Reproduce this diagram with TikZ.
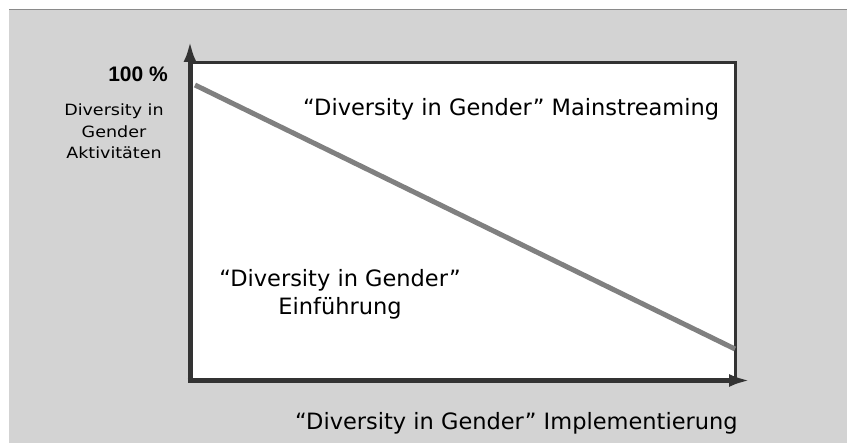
\documentclass[tikz,border=0pt]{standalone}
\usepackage{fontspec}
\setmainfont{DejaVu Sans}
\newfontfamily\widefont{DejaVu Sans}[FakeStretch=1.13]
\newfontfamily\pctfont{Liberation Sans}
\usetikzlibrary{arrows.meta,calc}

\definecolor{panelgray}{HTML}{D3D3D3}
\definecolor{rulegray}{HTML}{8A8A8A}
\definecolor{axisdark}{HTML}{333333}
\definecolor{trendgray}{HTML}{808080}

\tikzset{
  axisline/.style={draw=axisdark, line width=5pt, -{Latex[length=21pt,width=13pt]}},
  frameline/.style={draw=axisdark, line width=3pt},
  trendline/.style={draw=trendgray, line width=5pt},
  bigtext/.style={font=\fontsize{22.5}{28}\selectfont, inner sep=0pt},
  sidetext/.style={font=\widefont\fontsize{15.5}{21.5}\selectfont, inner sep=0pt, align=center},
  pcttext/.style={font=\pctfont\bfseries\fontsize{21}{24}\selectfont, inner sep=0pt}
}

\begin{document}
\begin{tikzpicture}[x=1pt, y=-1pt]
  \useasboundingbox (0,0) rectangle (847,443);
  % page background with the grey panel
  \fill[white] (0,0) rectangle (847,443);
  \fill[panelgray] (9,10) rectangle (847,443);
  \draw[draw=rulegray, line width=1.5pt] (9,9.75) -- (847,9.75);

  % chart area
  \coordinate (O) at (190,380.5);
  \coordinate (TL) at (190,62.5);
  \coordinate (TR) at (735,62.5);
  \coordinate (BR) at (735,380.5);
  \coordinate (Ytip) at (190,41);
  \coordinate (Xtip) at (750,380.5);
  \fill[white] (TL) rectangle (BR);
  \draw[frameline] (TL) -- (TR) -- (BR);

  % trend from top left to bottom right
  \coordinate (T0) at (195,85);
  \coordinate (T1) at (735,349);
  \draw[trendline] (T0) -- (T1);

  % axes
  \draw[axisline] (O) -- (Ytip);
  \draw[axisline] ($(O)+(-2.5,0)$) -- (Xtip);

  % labels (base anchor of a multi-line node sits on its last line)
  \node[pcttext, anchor=base east] (pct) at (168,82) {100 \%};
  \node[sidetext, anchor=base] (yaxis) at (114,159) {Diversity in\\Gender\\Aktivitäten};
  \node[bigtext, anchor=base west] (upper) at (303,116) {“Diversity in Gender” Mainstreaming};
  \node[bigtext, anchor=base, align=center] (lower) at (340,315) {“Diversity in Gender”\\Einführung};
  \node[bigtext, anchor=base west] (xaxis) at (295,430) {“Diversity in Gender” Implementierung};
\end{tikzpicture}
\end{document}
